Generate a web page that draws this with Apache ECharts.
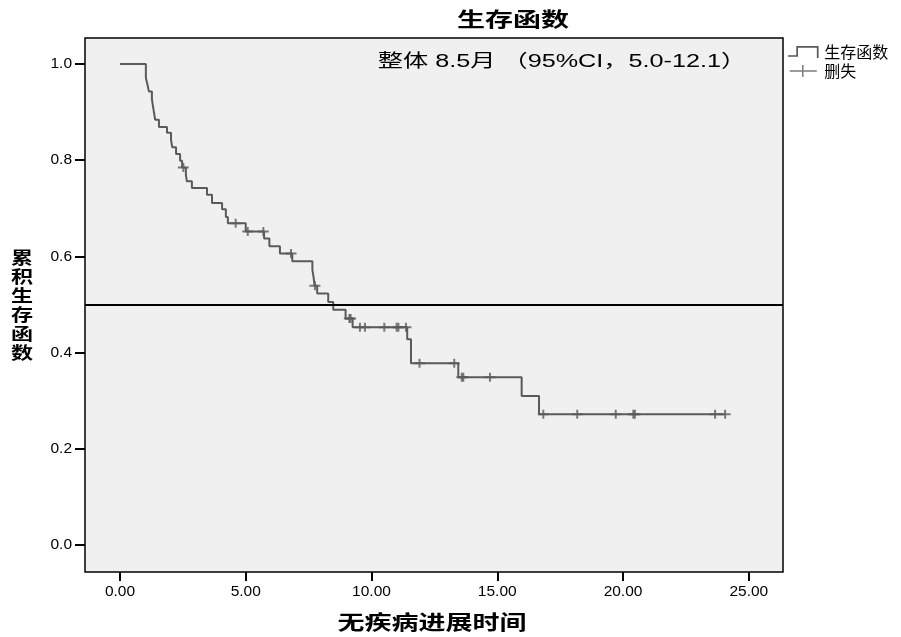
<!DOCTYPE html>
<html>
<head>
<meta charset="utf-8">
<title>生存函数</title>
<script src="https://cdn.jsdelivr.net/npm/echarts@6/dist/echarts.min.js"></script>
<style>
  html, body { margin: 0; padding: 0; background: #fff; }
  #chart { width: 901px; height: 637px; }
</style>
</head>
<body>
<div id="chart"></div>
<script>
// step points of the survival curve (time, survival after the event)
const stepTimes = [0, 1.03, 1.09, 1.15, 1.27, 1.31, 1.35, 1.40, 1.55, 1.87, 2.03, 2.08, 2.23, 2.39, 2.47,
  2.62, 2.66, 2.86, 3.46, 3.66, 4.06, 4.21, 4.29, 5.00, 5.73, 5.94, 6.36, 6.85, 7.65, 7.70, 7.74,
  7.84, 8.28, 8.48, 8.97, 9.25, 11.42, 11.57, 13.45, 15.97, 16.66, 24.06]
const stepSurv = [1.0, 0.971, 0.958, 0.943, 0.927, 0.913, 0.900, 0.884, 0.869, 0.857, 0.842, 0.827, 0.813, 0.799, 0.785,
  0.770, 0.756, 0.742, 0.728, 0.711, 0.698, 0.682, 0.669, 0.652, 0.637, 0.621, 0.606, 0.590, 0.572, 0.556, 0.539,
  0.523, 0.505, 0.489, 0.471, 0.453, 0.428, 0.378, 0.349, 0.310, 0.272, 0.272]

// censored cases
const censorTimes = [2.52, 4.60, 5.08, 5.70, 6.80, 7.75, 9.12, 9.17, 9.54, 9.74, 10.51, 11.00, 11.07, 11.37,
  11.91, 13.29, 13.59, 13.65, 14.71, 16.83, 18.18, 19.71, 20.41, 20.47, 23.66, 24.06]
const censorSurv = [0.785, 0.669, 0.652, 0.652, 0.606, 0.539, 0.471, 0.471, 0.453, 0.453, 0.453, 0.453, 0.453, 0.453,
  0.378, 0.378, 0.349, 0.349, 0.349, 0.272, 0.272, 0.272, 0.272, 0.272, 0.272, 0.272]

const xTicks = [0, 5, 10, 15, 20, 25]
const yTicks = [0, 0.2, 0.4, 0.6, 0.8, 1.0]
const medianLevel = 0.5

const lineColor = '#5a5a5a'
const stepIcon = 'path://M0,8.5 L7.25,8.5 L7.25,0.5 L26.75,0.5 L26.75,11 L25.25,11 L25.25,2 L8.75,2 L8.75,10 L0,10 Z'
const crossIcon = 'path://M0,5.25 L12.25,5.25 L12.25,0 L13.75,0 L13.75,5.25 L27,5.25 L27,6.75 L13.75,6.75 L13.75,12 L12.25,12 L12.25,6.75 L0,6.75 Z'
const censorMark = 'path://M4.5,0 L6.5,0 L6.5,3.5 L11,3.5 L11,5.5 L6.5,5.5 L6.5,9 L4.5,9 L4.5,5.5 L0,5.5 L0,3.5 L4.5,3.5 Z'

const chart = echarts.init(document.getElementById('chart'))

chart.setOption({
  animation: false,
  backgroundColor: '#fff',
  grid: {
    left: 85,
    right: 118,
    top: 38,
    bottom: 65,
    show: true,
    backgroundColor: '#f0f0f0',
    borderColor: '#000',
    borderWidth: 1.5
  },
  legend: {
    orient: 'vertical',
    left: 783,
    top: 39,
    itemWidth: 32,
    itemHeight: 12,
    itemGap: 3,
    selectedMode: false,
    textStyle: { color: '#000', fontSize: 16, fontFamily: 'Noto Sans CJK SC' },
    itemStyle: { borderWidth: 0 },
    data: [
      { name: '生存函数', icon: stepIcon },
      { name: '删失', icon: crossIcon }
    ]
  },
  graphic: [
    {
      type: 'text', x: 513, y: 19, scaleX: 1.4,
      style: { text: '生存函数', fontSize: 20, fontWeight: 'bold', fontFamily: 'Noto Sans CJK SC', fill: '#000', align: 'center', verticalAlign: 'middle' }
    },
    {
      type: 'text', x: 562, y: 62, scaleX: 1.4,
      style: { text: '整体 8.5月 （95%CI，5.0-12.1）', fontSize: 18, fontFamily: '"Liberation Sans", "Noto Sans CJK SC"', fill: '#000', align: 'center', verticalAlign: 'middle' }
    },
    {
      type: 'text', x: 432, y: 622, scaleX: 1.35,
      style: { text: '无疾病进展时间', fontSize: 20, fontWeight: 'bold', fontFamily: 'Noto Sans CJK SC', fill: '#000', align: 'center', verticalAlign: 'middle' }
    },
    {
      type: 'text', x: 22, y: 305, scaleX: 1.3,
      style: { text: '累\n积\n生\n存\n函\n数', fontSize: 17, lineHeight: 19, fontWeight: 'bold', fontFamily: 'Noto Sans CJK SC', fill: '#000', align: 'center', verticalAlign: 'middle' }
    }
  ],
  xAxis: {
    type: 'value',
    min: -1.39,
    max: 26.36,
    axisLine: { show: false, onZero: false },
    splitLine: { show: false },
    axisTick: { show: true, customValues: xTicks, length: 9, lineStyle: { color: '#000', width: 2 } },
    axisLabel: {
      customValues: xTicks,
      formatter: v => v.toFixed(2),
      color: '#000',
      fontSize: 15.5,
      fontFamily: 'Liberation Sans',
      margin: 12
    }
  },
  yAxis: {
    type: 'value',
    min: -0.056,
    max: 1.054,
    axisLine: { show: false, onZero: false },
    splitLine: { show: false },
    axisTick: { show: true, customValues: yTicks, length: 10, lineStyle: { color: '#000', width: 2 } },
    axisLabel: {
      customValues: yTicks,
      formatter: v => v.toFixed(1),
      color: '#000',
      fontSize: 15.5,
      fontFamily: 'Liberation Sans',
      margin: 13
    }
  },
  series: [
    {
      name: '生存函数',
      type: 'line',
      step: 'end',
      symbol: 'none',
      color: lineColor,
      lineStyle: { color: lineColor, width: 2 },
      data: stepTimes.map((t, i) => [t, stepSurv[i]]),
      markLine: {
        silent: true,
        symbol: ['none', 'none'],
        label: { show: false },
        lineStyle: { color: '#000', width: 2, type: 'solid' },
        data: [{ yAxis: medianLevel }]
      }
    },
    {
      name: '删失',
      type: 'scatter',
      symbol: censorMark,
      symbolSize: [11, 9],
      symbolKeepAspect: false,
      color: lineColor,
      itemStyle: { color: lineColor },
      data: censorTimes.map((t, i) => [t, censorSurv[i]])
    }
  ]
})
</script>
</body>
</html>
